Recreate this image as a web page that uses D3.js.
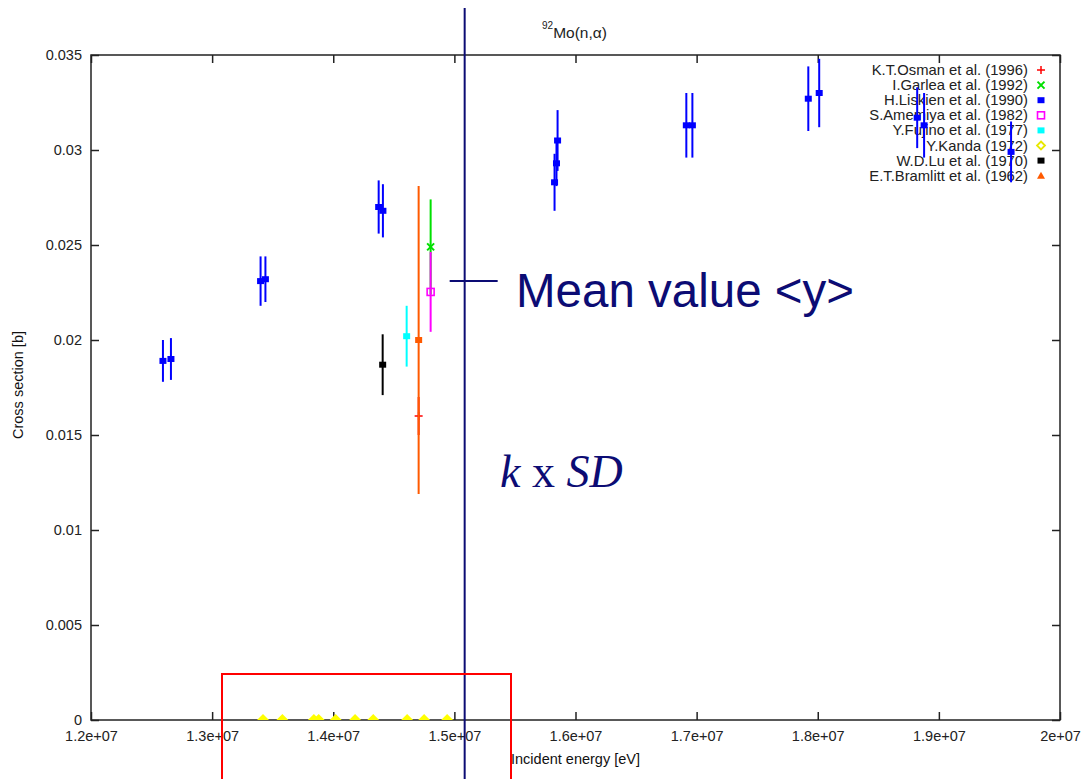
<!DOCTYPE html>
<html>
<head>
<meta charset="utf-8">
<script src="https://cdn.jsdelivr.net/npm/d3@7"></script>
<style>
  body { margin: 0; background: #fff; }
</style>
</head>
<body>
<div id="chart"></div>
<script>
// axis ticks
var energyTicks = [1.2e7, 1.3e7, 1.4e7, 1.5e7, 1.6e7, 1.7e7, 1.8e7, 1.9e7, 2e7];
var energyLabels = ['1.2e+07', '1.3e+07', '1.4e+07', '1.5e+07', '1.6e+07', '1.7e+07', '1.8e+07', '1.9e+07', '2e+07'];
var csTicks = [0, 0.005, 0.01, 0.015, 0.02, 0.025, 0.03, 0.035];
var csLabels = ['0', '0.005', '0.01', '0.015', '0.02', '0.025', '0.03', '0.035'];

// measurements: [energy (eV), cross section (b), error (b)]
var osman = [[1.4705e7, 0.0160, 0.0010]];
var garlea = [[1.4804e7, 0.0249, 0.0025]];
var liskien = [
  [1.2594e7, 0.0189, 0.0011],
  [1.2660e7, 0.0190, 0.0011],
  [1.3400e7, 0.0231, 0.0013],
  [1.3440e7, 0.0232, 0.0012],
  [1.4375e7, 0.0270, 0.0014],
  [1.4410e7, 0.0268, 0.0014],
  [1.5827e7, 0.0283, 0.0015],
  [1.5843e7, 0.0293, 0.0012],
  [1.5852e7, 0.0305, 0.0016],
  [1.6915e7, 0.0313, 0.0017],
  [1.6965e7, 0.0313, 0.0017],
  [1.7922e7, 0.0327, 0.0017],
  [1.8012e7, 0.0330, 0.0018],
  [1.8821e7, 0.0317, 0.0016],
  [1.8878e7, 0.0313, 0.0017],
  [1.9596e7, 0.0299, 0.0016]
];
var amemiya = [[1.4804e7, 0.02253, 0.0021]];
var fujino = [[1.4606e7, 0.0202, 0.0016]];
// Y.Kanda points sit on the zero line
var kanda = [[1.342e7, 0, 0], [1.358e7, 0, 0], [1.384e7, 0, 0], [1.388e7, 0, 0], [1.402e7, 0, 0],
             [1.418e7, 0, 0], [1.433e7, 0, 0], [1.461e7, 0, 0], [1.475e7, 0, 0], [1.494e7, 0, 0]];
var lu = [[1.4408e7, 0.0187, 0.0016]];
var bramlitt = [[1.4705e7, 0.0200, 0.0081]];

var legendNames = ['K.T.Osman et al. (1996)', 'I.Garlea et al. (1992)', 'H.Liskien et al. (1990)',
  'S.Amemiya et al. (1982)', 'Y.Fujino et al. (1977)', 'Y.Kanda (1972)', 'W.D.Lu et al. (1970)',
  'E.T.Bramlitt et al. (1962)'];

// annotation: mean value position
var meanPoint = [1.5085e7, 0.0231];

var series = [
  { data: osman, color: '#ff0000', shape: 'plus' },
  { data: garlea, color: '#00e000', shape: 'cross' },
  { data: liskien, color: '#0000ff', shape: 'square' },
  { data: amemiya, color: '#ff00ff', shape: 'osquare' },
  { data: fujino, color: '#00ffff', shape: 'square' },
  { data: kanda, color: '#ffff00', shape: 'diamond' },
  { data: lu, color: '#000000', shape: 'square' },
  { data: bramlitt, color: '#ff5a00', shape: 'triangle' }
];
series.forEach(function(s, i) { s.name = legendNames[i]; });

var width = 1082, height = 779;
var svg = d3.select('#chart').append('svg')
    .attr('width', width)
    .attr('height', height)
    .style('font-family', '"Liberation Sans", Arial, sans-serif');

var x = d3.scaleLinear().domain([1.2e7, 2e7]).range([91, 1060]);
var y = d3.scaleLinear().domain([0, 0.035]).range([720, 55]);

svg.append('clipPath').attr('id', 'plotclip')
  .append('rect')
    .attr('x', x(1.2e7)).attr('y', y(0.035))
    .attr('width', x(2e7) - x(1.2e7)).attr('height', y(0) - y(0.035));

// axes (gnuplot style, ticks pointing inward on all four sides)
var axBottom = svg.append('g')
    .attr('transform', 'translate(0,' + y(0) + ')')
    .call(d3.axisBottom(x).tickValues(energyTicks)
      .tickFormat(function(d, i) { return energyLabels[i]; })
      .tickSizeInner(-8).tickSizeOuter(0).tickPadding(11));
var axTop = svg.append('g')
    .attr('transform', 'translate(0,' + y(0.035) + ')')
    .call(d3.axisTop(x).tickValues(energyTicks).tickFormat('')
      .tickSizeInner(-8).tickSizeOuter(0));
var axLeft = svg.append('g')
    .attr('transform', 'translate(' + x(1.2e7) + ',0)')
    .call(d3.axisLeft(y).tickValues(csTicks)
      .tickFormat(function(d, i) { return csLabels[i]; })
      .tickSizeInner(-8).tickSizeOuter(0).tickPadding(9));
var axRight = svg.append('g')
    .attr('transform', 'translate(' + x(2e7) + ',0)')
    .call(d3.axisRight(y).tickValues(csTicks).tickFormat('')
      .tickSizeInner(-8).tickSizeOuter(0));

[axBottom, axTop, axLeft, axRight].forEach(function(g) {
  g.select('.domain').remove();
  g.selectAll('.tick line').attr('stroke', '#222').attr('stroke-width', 1.5);
  g.selectAll('.tick text').attr('fill', '#222')
    .style('font-size', '14.5px').style('font-family', '"Liberation Sans", Arial, sans-serif');
});

svg.append('rect')
    .attr('x', x(1.2e7)).attr('y', y(0.035))
    .attr('width', x(2e7) - x(1.2e7)).attr('height', y(0) - y(0.035))
    .attr('fill', 'none').attr('stroke', '#222').attr('stroke-width', 1.5);

// titles
var title = svg.append('text')
    .attr('x', 542).attr('y', 38)
    .attr('fill', '#222')
    .style('font-size', '15.5px');
title.append('tspan').attr('dy', -9).style('font-size', '10px').text('92');
title.append('tspan').attr('dy', 9).text('Mo(n,α)');

svg.append('text')
    .attr('x', 511).attr('y', 764)
    .attr('fill', '#111')
    .style('font-size', '14.5px')
    .text('Incident energy [eV]');

svg.append('text')
    .attr('transform', 'translate(23,385) rotate(-90)')
    .attr('text-anchor', 'middle')
    .attr('fill', '#111')
    .style('font-size', '14.5px')
    .text('Cross section [b]');

function drawMarker(g, shape, color, cx, cy, inLegend) {
  var m = g.append('g').attr('transform', 'translate(' + cx + ',' + cy + ')');
  if (shape === 'plus') {
    m.append('path').attr('d', 'M-4,0H4M0,-4V4')
      .attr('stroke', color).attr('stroke-width', 1.5).attr('fill', 'none');
  } else if (shape === 'cross') {
    m.append('path').attr('d', 'M-3.5,-3.5L3.5,3.5M-3.5,3.5L3.5,-3.5')
      .attr('stroke', color).attr('stroke-width', 2).attr('fill', 'none');
  } else if (shape === 'square') {
    m.append('rect').attr('x', -3.5).attr('y', -3).attr('width', 7).attr('height', 6)
      .attr('fill', color);
  } else if (shape === 'osquare') {
    m.append('rect').attr('x', -3.5).attr('y', -3.5).attr('width', 7).attr('height', 7)
      .attr('fill', 'none').attr('stroke', color).attr('stroke-width', 1.6);
  } else if (shape === 'diamond') {
    if (inLegend) {
      m.append('path').attr('d', 'M0,-4L4,0L0,4L-4,0Z')
        .attr('fill', 'none').attr('stroke', '#e8e800').attr('stroke-width', 1.8);
    } else {
      m.append('path').attr('d', 'M0,-6L6,0L0,6L-6,0Z').attr('fill', color);
    }
  } else if (shape === 'triangle') {
    if (inLegend) {
      m.append('path').attr('d', 'M0,-4L4,3L-4,3Z').attr('fill', color);
    } else {
      m.append('rect').attr('x', -3.5).attr('y', -3).attr('width', 7).attr('height', 6)
        .attr('fill', color);
    }
  }
}

// legend (drawn first, data goes on top of it)
var legend = svg.append('g');
series.forEach(function(s, i) {
  var ly = 70 + i * 15.1;
  legend.append('text')
      .attr('x', 1028).attr('y', ly + 5)
      .attr('text-anchor', 'end')
      .attr('fill', '#222')
      .style('font-size', '14.8px')
      .text(s.name);
  drawMarker(legend, s.shape, s.color, 1041, ly, true);
});

// data: error bars and points
var plot = svg.append('g').attr('clip-path', 'url(#plotclip)');
series.forEach(function(s) {
  s.data.forEach(function(d) {
    if (d[2] > 0) {
      plot.append('line')
          .attr('x1', x(d[0])).attr('x2', x(d[0]))
          .attr('y1', y(d[1] - d[2])).attr('y2', y(d[1] + d[2]))
          .attr('stroke', s.color).attr('stroke-width', 2);
    }
    drawMarker(plot, s.shape, s.color, x(d[0]), y(d[1]), false);
  });
});

// annotations
var navy = '#0c0c74';
svg.append('line')
    .attr('x1', x(meanPoint[0])).attr('x2', x(meanPoint[0]))
    .attr('y1', 8).attr('y2', height)
    .attr('stroke', navy).attr('stroke-width', 2);
svg.append('line')
    .attr('x1', x(meanPoint[0]) - 15).attr('x2', x(meanPoint[0]) + 33)
    .attr('y1', y(meanPoint[1])).attr('y2', y(meanPoint[1]))
    .attr('stroke', navy).attr('stroke-width', 2);
svg.append('text')
    .attr('x', 516).attr('y', 307)
    .attr('fill', navy)
    .style('font-size', '47.5px')
    .text('Mean value <y>');

var ksd = svg.append('text')
    .attr('x', 500).attr('y', 487)
    .attr('fill', navy)
    .style('font-family', '"Liberation Serif", "Times New Roman", serif')
    .style('font-size', '46px');
ksd.append('tspan').style('font-style', 'italic').text('k');
ksd.append('tspan').text(' x ');
ksd.append('tspan').style('font-style', 'italic').text('SD');

// highlight box around the zero-valued points
svg.append('rect')
    .attr('x', 222).attr('y', 674)
    .attr('width', 289).attr('height', 200)
    .attr('fill', 'none').attr('stroke', '#ff0000').attr('stroke-width', 2);
</script>
</body>
</html>
